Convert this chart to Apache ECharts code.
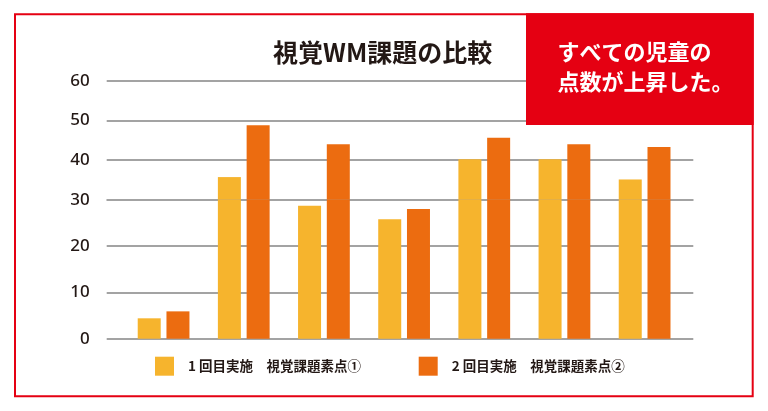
<!DOCTYPE html>
<html><head><meta charset="utf-8">
<script src="https://cdn.jsdelivr.net/npm/echarts@6/dist/echarts.min.js"></script>
<style>html,body{margin:0;padding:0;background:#fff}#c{width:768px;height:411px}</style>
</head><body><div id="c"></div>
<script>
// ---- data ----
const categories = ['1', '2', '3', '4', '5', '6', '7'];
const seriesNames = ['1 回目実施　視覚課題素点①', '2 回目実施　視覚課題素点②'];
const round1 = [4.4, 35.7, 28.7, 25.8, 40.2, 40.2, 35.1];
const round2 = [5.9, 48.8, 44.0, 28.0, 45.6, 44.0, 43.3];
const yTickMin = 0, yTickBreak = 30, yTickMax = 60, yTickStep = 10;
const titleText = '視覚WM課題の比較';
const calloutLines = ['すべての児童の', '点数が上昇した。'];

// ---- style / layout ----
const colors = ['#F6B42D', '#EC6C10'];
const red = '#E50012';
const gridColor = '#A3A3A3';
const ink = '#231815';
const plotLeft = 106.7, plotRight = 693.3;
const barLeft = 123.5, barRight = 684.7;
const yTop = 80.7, yBreak = 199.7, yBottom = 338.7;

const chart = echarts.init(document.getElementById('c'), null, {renderer: 'canvas'});

const lineYAxis = (grid, min, max, hideMin) => ({
  type: 'value', gridIndex: grid, min: min, max: max, interval: yTickStep,
  axisLine: {show: false}, axisTick: {show: false},
  splitLine: {show: true, lineStyle: {color: gridColor, width: 2}},
  axisLabel: {show: true, showMinLabel: !hideMin, margin: 17, color: ink,
    fontSize: 17, fontWeight: 500, fontFamily: 'Noto Sans'}
});
const barYAxis = (grid, min, max) => ({
  type: 'value', gridIndex: grid, min: min, max: max, interval: yTickStep, show: false,
  splitLine: {show: false}
});
const hiddenX = (grid) => ({type: 'value', gridIndex: grid, min: 0, max: 1, show: false, splitLine: {show: false}});
const catX = (grid) => ({type: 'category', gridIndex: grid, data: categories, show: false,
  axisLine: {show: false}, axisTick: {show: false}, axisLabel: {show: false}});

const barSeries = (name, data, color, idx) => ({
  name: name, type: 'bar', xAxisIndex: idx, yAxisIndex: idx, data: data,
  barWidth: 23, barGap: '25%', clip: true,
  itemStyle: {color: color}
});

const legendText = {fontSize: 13.5, fontWeight: 'bold', color: ink, fontFamily: 'Noto Sans CJK JP', padding: [0, 0, 0, 9]};

chart.setOption({
  animation: false,
  backgroundColor: '#fff',
  title: {
    text: titleText, left: 273, top: 40, padding: 0,
    textStyle: {fontSize: 25, fontWeight: 'bold', color: ink, fontFamily: 'Noto Sans CJK JP'}
  },
  grid: [
    {left: plotLeft, width: plotRight - plotLeft, top: yTop, height: yBreak - yTop, containLabel: false},
    {left: plotLeft, width: plotRight - plotLeft, top: yBreak, height: yBottom - yBreak, containLabel: false},
    {left: barLeft, width: barRight - barLeft, top: yTop, height: yBreak - yTop, containLabel: false},
    {left: barLeft, width: barRight - barLeft, top: yBreak, height: yBottom - yBreak, containLabel: false}
  ],
  xAxis: [hiddenX(0), hiddenX(1), catX(2), catX(3)],
  yAxis: [
    lineYAxis(0, yTickBreak, yTickMax, true),
    lineYAxis(1, yTickMin, yTickBreak, false),
    barYAxis(2, yTickBreak, yTickMax),
    barYAxis(3, yTickMin, yTickBreak)
  ],
  legend: [
    {data: [seriesNames[0]], left: 155, top: 356.7, padding: 0, itemWidth: 19, itemHeight: 19, icon: 'rect',
     selectedMode: false, textStyle: legendText},
    {data: [seriesNames[1]], left: 418.7, top: 356.7, padding: 0, itemWidth: 19, itemHeight: 19, icon: 'rect',
     selectedMode: false, textStyle: legendText}
  ],
  series: [
    barSeries(seriesNames[0], round1, colors[0], 2),
    barSeries(seriesNames[1], round2, colors[1], 2),
    barSeries(seriesNames[0], round1, colors[0], 3),
    barSeries(seriesNames[1], round2, colors[1], 3)
  ],
  graphic: [
    {type: 'rect', z: 100, shape: {x: 15, y: 14.3, width: 737.7, height: 382},
     style: {fill: 'none', stroke: red, lineWidth: 2}},
    {type: 'rect', z: 101, shape: {x: 526, y: 13.3, width: 227.7, height: 111.7},
     style: {fill: red}},
    {type: 'text', z: 102, x: 557.5, y: 36.7,
     style: {text: calloutLines.join('\n'), fill: '#fff', fontSize: 22, fontWeight: 'bold',
       fontFamily: 'Noto Sans CJK JP', lineHeight: 30, align: 'left', verticalAlign: 'top'}}
  ]
});
</script></body></html>
